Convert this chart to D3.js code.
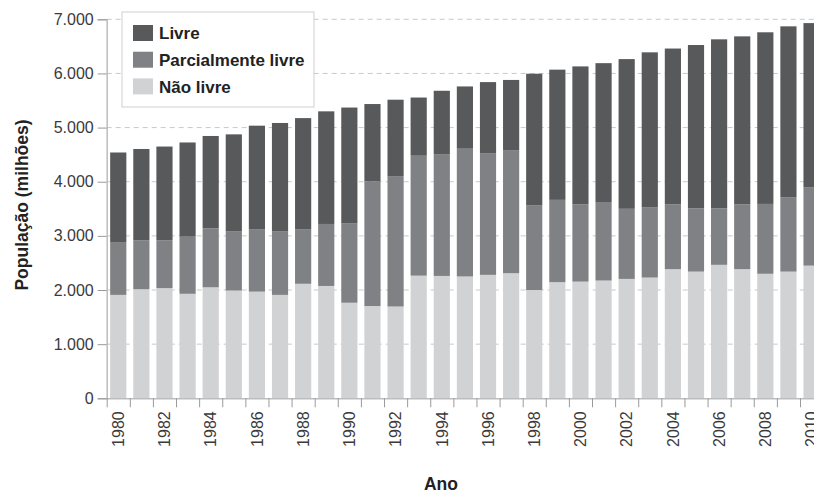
<!DOCTYPE html>
<html>
<head>
<meta charset="utf-8">
<script src="https://cdn.jsdelivr.net/npm/d3@7"></script>
<style>
  html, body { margin: 0; padding: 0; background: #fff; }
  svg { display: block; }
  text { font-family: "Liberation Sans", Arial, Helvetica, sans-serif; }
</style>
</head>
<body>
<svg id="chart" width="814" height="495"></svg>
<script>
// ---- Data (millions) ----
const years = d3.range(1980, 2011);
const naoLivre = [1910, 2015, 2035, 1930, 2050, 1990, 1970, 1910, 2115, 2075,
                  1765, 1705, 1695, 2265, 2260, 2250, 2280, 2310, 2000, 2145,
                  2155, 2175, 2205, 2230, 2385, 2340, 2465, 2385, 2300, 2340, 2450];
const parcialmente = [965, 900, 880, 1055, 1090, 1090, 1155, 1170, 1010, 1145,
                      1470, 2300, 2400, 2215, 2250, 2360, 2240, 2265, 1560, 1520,
                      1430, 1450, 1295, 1300, 1200, 1170, 1045, 1195, 1290, 1375, 1450];
const livre = [1665, 1690, 1735, 1740, 1705, 1795, 1910, 2005, 2050, 2080,
               2135, 1430, 1420, 1075, 1170, 1150, 1320, 1305, 2435, 2405,
               2545, 2565, 2765, 2860, 2875, 3015, 3120, 3105, 3170, 3155, 3030];
const seriesNames = ["Não livre", "Parcialmente livre", "Livre"];
const legendOrder = ["Livre", "Parcialmente livre", "Não livre"];
const yTicks = [0, 1000, 2000, 3000, 4000, 5000, 6000, 7000];
const xLabelYears = d3.range(1980, 2011, 2);

// ---- Build table ----
const table = years.map((yr, i) => ({
  year: yr, "Não livre": naoLivre[i], "Parcialmente livre": parcialmente[i], "Livre": livre[i]
}));
const stacked = d3.stack().keys(seriesNames)(table);

const colors = d3.scaleOrdinal().domain(seriesNames).range(["#d1d2d4", "#808184", "#58595b"]);

const svg = d3.select("#chart");
const pLeft = 106.7, pRight = 823.1, pBottom = 398.3, pTop = 19.3;

const x = d3.scaleBand().domain(years).range([pLeft, pRight]).paddingInner(0.3).paddingOuter(0.15);
const edges = d3.scaleLinear().domain([1980, 2011]).range([pLeft, pRight]);
const y = d3.scaleLinear().domain([0, 7000]).range([pBottom, pTop]);

const loc = d3.formatLocale({ decimal: ",", thousands: ".", grouping: [3], currency: ["", ""] });
const fmt = loc.format(",d");

// gridlines
svg.append("g").selectAll("line").data(yTicks.filter(d => d > 0)).join("line")
  .attr("x1", pLeft).attr("x2", 814)
  .attr("y1", d => y(d)).attr("y2", d => y(d))
  .attr("stroke", "#c8c8c8").attr("stroke-width", 1).attr("stroke-dasharray", "5,4");

// bars
svg.append("g").selectAll("g").data(stacked).join("g")
  .attr("fill", d => colors(d.key))
  .selectAll("rect").data(d => d).join("rect")
  .attr("x", d => x(d.data.year))
  .attr("width", x.bandwidth())
  .attr("y", d => y(d[1]))
  .attr("height", d => y(d[0]) - y(d[1]));

// y axis
const yAxis = svg.append("g").attr("transform", `translate(${pLeft},0)`)
  .call(d3.axisLeft(y).tickValues(yTicks).tickFormat(fmt).tickSize(9).tickPadding(4));
yAxis.select(".domain").attr("stroke", "#bdbdbd").attr("stroke-width", 1.5);
yAxis.selectAll(".tick line").attr("stroke", "#9a9a9a").attr("stroke-width", 1);
yAxis.selectAll(".tick text").attr("font-size", 16).attr("fill", "#3a3a3a")
  .attr("font-family", "Liberation Sans, Arial, sans-serif");

// x axis: edge ticks
const xEdge = svg.append("g").attr("transform", `translate(0,${pBottom})`)
  .call(d3.axisBottom(edges).tickValues(d3.range(1980, 2012)).tickFormat("").tickSize(9).tickSizeOuter(0));
xEdge.select(".domain").attr("stroke", "#bdbdbd").attr("stroke-width", 1.5);
xEdge.selectAll(".tick line").attr("stroke", "#9a9a9a").attr("stroke-width", 1);

// x axis labels
const xLab = svg.append("g").attr("transform", `translate(0,${pBottom})`)
  .call(d3.axisBottom(x).tickValues(xLabelYears).tickSize(0).tickPadding(0));
xLab.select(".domain").remove();
xLab.selectAll(".tick text")
  .attr("font-size", 16).attr("fill", "#3a3a3a")
  .attr("font-family", "Liberation Sans, Arial, sans-serif")
  .attr("text-anchor", "end")
  .attr("transform", "translate(0,13) rotate(-90)")
  .attr("x", 0).attr("y", 0).attr("dy", "0.36em");

// axis titles
svg.append("text").attr("transform", `translate(28,205) rotate(-90)`)
  .attr("text-anchor", "middle").attr("font-size", 17.5).attr("font-weight", "bold")
  .attr("fill", "#222").text("População (milhões)");
svg.append("text").attr("x", 441).attr("y", 490)
  .attr("text-anchor", "middle").attr("font-size", 17.5).attr("font-weight", "bold")
  .attr("fill", "#222").text("Ano");

// legend
const lg = svg.append("g");
lg.append("rect").attr("x", 122).attr("y", 12).attr("width", 192).attr("height", 95)
  .attr("fill", "#fff").attr("stroke", "#cfcfcf").attr("stroke-width", 1);
const items = lg.selectAll("g.item").data(legendOrder).join("g").attr("class", "item")
  .attr("transform", (d, i) => `translate(133,${25 + i * 26.7})`);
items.append("rect").attr("width", 20).attr("height", 16).attr("fill", d => colors(d));
items.append("text").attr("x", 26).attr("y", 8).attr("dy", "0.36em")
  .attr("font-size", 17).attr("font-weight", "bold").attr("fill", "#222").text(d => d);
</script>
</body>
</html>
